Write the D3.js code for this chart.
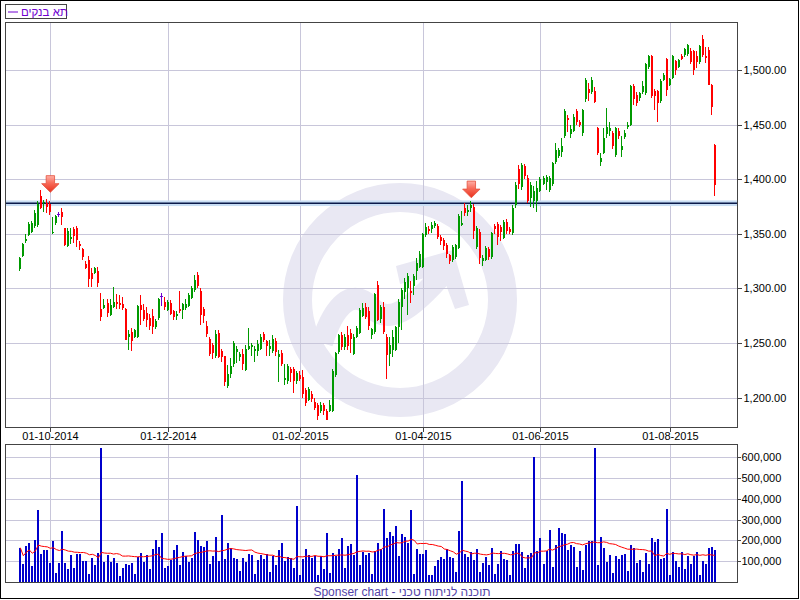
<!DOCTYPE html>
<html><head><meta charset="utf-8">
<script src="https://cdn.jsdelivr.net/npm/d3@7"></script>
<style>body{margin:0;background:#fff}svg{display:block}</style>
</head><body>
<svg id="c" width="800" height="600"></svg>
<script>
// ---------------- DATA ----------------
const seriesName = "תא בנקים";
const footerText = "Sponser chart - תוכנה לניתוח טכני";
const dateTickIndex = [10, 49, 93, 134, 173, 216];
const dateTickLabels = ["01-10-2014", "01-12-2014", "01-02-2015", "01-04-2015", "01-06-2015", "01-08-2015"];
const priceTicks = [1200, 1250, 1300, 1350, 1400, 1450, 1500];
const volumeTicksK = [100, 200, 300, 400, 500, 600];
const signalIndex = [10, 150];
const signalPrice = [1388, 1383];
const levelPrice = 1378;
const maPeriod = 20;

const openP = [1318,1330,1343,1349,1352,1357,1358,1385,1378,1378,1377,1351,1360,1368,1370,1355,1339,1345,1354,1355,
1341,1336,1322,1326,1314,1314,1316,1281,1282,1287,1276,1283,1288,1287,1286,1281,1256,1260,1256,1256,
1285,1280,1278,1273,1275,1265,1273,1293,1288,1280,1287,1279,1275,1281,1280,1282,1284,1291,1299,1312,
1298,1281,1266,1254,1248,1238,1259,1243,1238,1211,1222,1231,1242,1237,1240,1225,1245,1246,1243,1243,
1245,1258,1252,1245,1243,1252,1237,1241,1216,1215,1226,1226,1215,1221,1219,1207,1198,1203,1196,1193,
1188,1193,1188,1188,1188,1221,1242,1257,1246,1257,1259,1240,1256,1259,1275,1283,1279,1257,1260,1303,
1272,1283,1256,1240,1244,1244,1265,1283,1297,1300,1298,1302,1316,1320,1320,1349,1354,1354,1357,1357,
1347,1344,1340,1331,1326,1329,1337,1358,1374,1370,1374,1375,1338,1352,1325,1326,1336,1329,1357,1359,
1356,1346,1361,1354,1351,1376,1409,1393,1412,1401,1383,1380,1380,1389,1396,1397,1390,1396,1416,1421,
1425,1440,1456,1441,1444,1462,1452,1442,1473,1483,1480,1481,1447,1416,1424,1441,1444,1442,1422,1444,
1427,1439,1448,1450,1485,1477,1474,1480,1479,1503,1513,1481,1481,1472,1491,1510,1486,1493,1508,1503,
1513,1514,1515,1517,1517,1513,1507,1528,1513,1518,1486,1431];
const highP = [1329,1342,1350,1361,1362,1372,1380,1390,1381,1382,1380,1365,1367,1370,1374,1355,1355,1355,1356,1357,
1343,1337,1325,1330,1319,1320,1320,1296,1290,1290,1290,1301,1295,1294,1292,1282,1262,1264,1263,1285,
1294,1286,1283,1277,1281,1272,1291,1296,1292,1289,1289,1280,1279,1298,1287,1290,1296,1302,1312,1315,
1300,1283,1270,1256,1250,1262,1262,1245,1238,1230,1236,1252,1247,1242,1245,1248,1264,1250,1247,1253,
1258,1260,1253,1253,1257,1255,1244,1244,1231,1231,1228,1228,1224,1224,1225,1209,1210,1206,1200,1195,
1196,1195,1190,1198,1226,1242,1258,1260,1258,1266,1263,1258,1266,1282,1287,1287,1283,1264,1296,1307,
1285,1288,1258,1256,1262,1266,1290,1300,1310,1314,1307,1313,1328,1334,1351,1360,1357,1361,1362,1359,
1349,1346,1342,1332,1340,1341,1368,1371,1378,1376,1380,1377,1357,1354,1331,1339,1338,1352,1359,1361,
1358,1363,1364,1356,1376,1397,1413,1415,1414,1404,1397,1394,1398,1402,1403,1404,1403,1416,1433,1429,
1438,1464,1459,1450,1460,1464,1454,1464,1493,1488,1494,1484,1448,1424,1447,1465,1452,1444,1448,1447,
1440,1445,1452,1486,1487,1480,1480,1490,1506,1514,1514,1483,1482,1492,1497,1511,1493,1514,1509,1510,
1515,1520,1524,1520,1518,1517,1523,1532,1521,1521,1487,1432];
const lowP = [1316,1329,1342,1348,1351,1355,1356,1373,1370,1369,1367,1350,1358,1365,1358,1339,1338,1341,1342,1338,
1335,1326,1318,1301,1301,1313,1301,1270,1281,1274,1275,1282,1281,1281,1280,1253,1244,1243,1255,1255,
1267,1270,1265,1262,1258,1263,1271,1284,1280,1279,1276,1271,1271,1278,1272,1280,1283,1290,1297,1300,
1267,1268,1256,1238,1235,1236,1236,1233,1211,1209,1218,1228,1232,1234,1225,1224,1244,1238,1233,1238,
1244,1251,1238,1238,1241,1238,1214,1229,1212,1213,1214,1204,1213,1215,1200,1192,1197,1196,1189,1180,
1186,1184,1180,1187,1187,1219,1240,1244,1244,1244,1241,1239,1255,1258,1274,1272,1262,1254,1258,1270,
1268,1258,1217,1229,1237,1243,1250,1262,1290,1276,1287,1294,1308,1319,1319,1347,1350,1351,1355,1345,
1340,1335,1328,1322,1324,1327,1336,1357,1366,1366,1370,1345,1336,1322,1321,1325,1326,1327,1350,1340,
1343,1345,1350,1350,1349,1374,1391,1390,1400,1378,1375,1374,1370,1388,1395,1390,1388,1394,1414,1419,
1420,1438,1443,1438,1443,1450,1448,1440,1471,1472,1478,1470,1422,1412,1423,1438,1440,1428,1420,1437,
1420,1437,1446,1449,1468,1467,1472,1478,1477,1501,1474,1463,1452,1470,1490,1476,1485,1492,1495,1502,
1509,1512,1513,1505,1495,1502,1505,1512,1506,1486,1459,1385];
const closeP = [1328,1341,1345,1359,1360,1369,1377,1374,1379,1375,1370,1352,1366,1368,1365,1340,1353,1347,1348,1344,
1339,1329,1319,1309,1309,1319,1305,1274,1285,1278,1285,1288,1286,1285,1282,1253,1258,1252,1262,1284,
1280,1272,1271,1266,1265,1270,1290,1293,1283,1288,1277,1274,1277,1279,1286,1286,1294,1300,1308,1302,
1276,1275,1258,1240,1241,1258,1237,1237,1214,1222,1229,1250,1245,1240,1231,1245,1247,1248,1245,1249,
1256,1253,1247,1247,1254,1242,1240,1231,1218,1229,1223,1215,1223,1217,1203,1195,1208,1199,1191,1183,
1193,1188,1180,1193,1224,1241,1257,1246,1256,1247,1254,1256,1264,1280,1282,1274,1266,1263,1295,1271,
1283,1260,1239,1248,1256,1265,1288,1299,1306,1311,1296,1311,1323,1332,1350,1356,1353,1358,1360,1347,
1343,1339,1332,1325,1338,1340,1366,1360,1369,1372,1376,1353,1355,1328,1328,1337,1329,1351,1354,1347,
1352,1361,1353,1352,1374,1395,1396,1413,1403,1380,1395,1389,1392,1400,1401,1402,1401,1415,1427,1427,
1430,1462,1454,1446,1457,1452,1450,1463,1491,1479,1491,1471,1424,1419,1438,1448,1447,1430,1447,1440,
1430,1442,1450,1485,1473,1470,1479,1485,1505,1513,1476,1476,1470,1490,1495,1482,1492,1513,1500,1509,
1510,1519,1523,1507,1500,1507,1522,1514,1511,1486,1466,1395];
// volume, thousands of units
const volumeK = [165,88,175,189,75,204,348,136,155,155,93,199,45,93,247,93,64,131,69,136,
133,103,103,40,117,83,141,646,98,131,98,117,93,30,69,88,83,93,40,122,
141,98,131,64,160,204,167,237,69,79,107,155,180,83,146,127,98,117,242,204,
175,170,199,88,127,218,103,324,112,189,165,117,112,54,117,98,136,131,40,107,
131,112,136,50,127,83,155,189,103,122,117,69,367,35,112,160,131,117,127,35,
127,64,237,45,141,127,160,213,69,175,184,131,516,83,146,131,141,40,151,189,
160,353,213,242,223,271,127,232,218,189,348,40,160,136,136,152,35,35,79,107,
122,112,160,122,117,50,247,487,136,122,146,107,160,50,93,122,83,165,40,88,
151,112,107,35,151,184,184,146,69,131,141,603,151,213,88,151,252,74,179,261,
237,232,155,179,170,74,151,59,179,199,199,646,83,218,165,98,131,45,127,112,
131,136,54,179,165,93,107,50,141,88,213,194,208,112,117,353,35,146,103,74,
146,64,127,88,127,146,35,103,88,165,170,155];

// ---------------- LAYOUT ----------------
const N = closeP.length;
const mainBox = {l: 5, r: 737, t: 22, b: 427};
const volBox = {l: 5, r: 737, t: 444, b: 582};
const FONT = "'Liberation Sans', Arial, sans-serif";
const GRID = "#c8c6da";
const FRAME = "#444";
const UP = "#009900", DOWN = "#ff0000", DOJI = "#7000d0";

const svg = d3.select("#c");
svg.append("rect").attr("width", 800).attr("height", 600).attr("fill", "#fff");

const x = d3.scaleLinear().domain([0, N - 1]).range([20.3, 714.9]);
const y = d3.scaleLinear().domain([1173.2, 1543.9]).range([mainBox.b, mainBox.t]);
const yv = d3.scaleLinear().domain([0, 664]).range([volBox.b, volBox.t]);
const px = i => Math.round(x(i));

// watermark
const wm = svg.append("g").attr("fill", "none").attr("stroke", "#e9e8f3");
wm.append("circle").attr("cx", 400).attr("cy", 300).attr("r", 102.5).attr("stroke-width", 29);
wm.append("path").attr("d", "M322,343 C334,305 352,288 370,306 C388,326 410,312 446,270").attr("stroke-width", 22);
wm.append("path").attr("d", "M396,266 L453,250 L469,305 L455,309 L442,274 L400,284 Z").attr("fill", "#e9e8f3").attr("stroke", "none");

// grids (main)
const gm = svg.append("g").attr("shape-rendering", "crispEdges").attr("stroke", GRID);
gm.selectAll("line.h").data(priceTicks).join("line")
  .attr("x1", mainBox.l).attr("x2", mainBox.r)
  .attr("y1", d => Math.round(y(d)) + 0.5).attr("y2", d => Math.round(y(d)) + 0.5);
gm.selectAll("line.v").data(dateTickIndex).join("line")
  .attr("x1", d => px(d) + 0.5).attr("x2", d => px(d) + 0.5)
  .attr("y1", mainBox.t).attr("y2", mainBox.b);

// level line
const ly = y(levelPrice);
svg.append("rect").attr("x", mainBox.l).attr("width", mainBox.r - mainBox.l)
  .attr("y", ly - 2.8).attr("height", 5.6).attr("fill", "#c9def4");
svg.append("line").attr("x1", mainBox.l).attr("x2", mainBox.r).attr("y1", ly).attr("y2", ly)
  .attr("stroke", "#0b1a4a").attr("stroke-width", 1.4);

// candles
const idx = d3.range(N);
const colorOf = i => closeP[i] > openP[i] ? UP : (closeP[i] < openP[i] ? DOWN : DOJI);
const cg = svg.append("g").attr("shape-rendering", "crispEdges");
cg.selectAll("rect.w").data(idx).join("rect")
  .attr("x", i => px(i) - 1).attr("width", 1)
  .attr("y", i => y(highP[i])).attr("height", i => y(lowP[i]) - y(highP[i]))
  .attr("fill", colorOf);
cg.selectAll("rect.b").data(idx).join("rect")
  .attr("x", i => px(i) - (closeP[i] === openP[i] ? 2 : 1.5))
  .attr("width", i => closeP[i] === openP[i] ? 3 : 2.5)
  .attr("y", i => y(Math.max(openP[i], closeP[i])))
  .attr("height", i => Math.max(1, Math.abs(y(openP[i]) - y(closeP[i]))))
  .attr("fill", colorOf);

// signal arrows
const defs = svg.append("defs");
const grad = defs.append("linearGradient").attr("id", "ag").attr("x1", 0).attr("y1", 0).attr("x2", 0).attr("y2", 1);
grad.append("stop").attr("offset", "0").attr("stop-color", "#ffb0a8");
grad.append("stop").attr("offset", "0.45").attr("stop-color", "#f86a58");
grad.append("stop").attr("offset", "1").attr("stop-color", "#e8301c");
svg.selectAll("path.arrow").data(signalIndex).join("path")
  .attr("d", (d, k) => {
    const tx = x(d), ty = y(signalPrice[k]);
    return `M${tx - 4.2},${ty - 16.7} L${tx + 4.2},${ty - 16.7} L${tx + 4.2},${ty - 8.7} L${tx + 8.7},${ty - 8.7} L${tx},${ty} L${tx - 8.7},${ty - 8.7} L${tx - 4.2},${ty - 8.7} Z`;
  })
  .attr("fill", "url(#ag)").attr("stroke", "#e4503c").attr("stroke-width", 0.8);

// main frame
svg.append("rect").attr("x", mainBox.l + 0.5).attr("y", mainBox.t + 0.5)
  .attr("width", mainBox.r - mainBox.l).attr("height", mainBox.b - mainBox.t)
  .attr("fill", "none").attr("stroke", FRAME).attr("shape-rendering", "crispEdges");

// price axis
const ay = svg.append("g").attr("transform", `translate(${mainBox.r + 0.5},0)`)
  .call(d3.axisRight(y).tickValues(priceTicks).tickFormat(d3.format(",.2f")).tickSize(4).tickPadding(2));
// date axis
const ax = svg.append("g").attr("transform", `translate(0,${mainBox.b + 0.5})`)
  .call(d3.axisBottom(x).tickValues(dateTickIndex).tickFormat((d, k) => dateTickLabels[k]).tickSize(4).tickPadding(1));
ax.selectAll(".tick").attr("transform", d => `translate(${px(d) + 0.5},0)`);

// volume panel grid
const gv = svg.append("g").attr("shape-rendering", "crispEdges").attr("stroke", GRID);
gv.selectAll("line.h").data(volumeTicksK).join("line")
  .attr("x1", volBox.l).attr("x2", volBox.r)
  .attr("y1", d => Math.round(yv(d)) + 0.5).attr("y2", d => Math.round(yv(d)) + 0.5);
gv.selectAll("line.v").data(dateTickIndex).join("line")
  .attr("x1", d => px(d) + 0.5).attr("x2", d => px(d) + 0.5)
  .attr("y1", volBox.t).attr("y2", volBox.b);

// volume bars
svg.append("g").attr("shape-rendering", "crispEdges").selectAll("rect").data(idx).join("rect")
  .attr("x", i => px(i) - 1.5).attr("width", 2)
  .attr("y", i => yv(volumeK[i])).attr("height", i => yv(0) - yv(volumeK[i]))
  .attr("fill", "#0000cc");

// volume moving average (trailing mean of volumeK)
const ma = idx.map(i => d3.mean(volumeK.slice(Math.max(0, i - maPeriod + 1), i + 1)));
svg.append("path").datum(idx)
  .attr("d", d3.line().x(i => x(i)).y(i => yv(ma[i])))
  .attr("fill", "none").attr("stroke", "#ff0000").attr("stroke-width", 1);

// volume frame & axis
svg.append("rect").attr("x", volBox.l + 0.5).attr("y", volBox.t + 0.5)
  .attr("width", volBox.r - volBox.l).attr("height", volBox.b - volBox.t)
  .attr("fill", "none").attr("stroke", FRAME).attr("shape-rendering", "crispEdges");
const av = svg.append("g").attr("transform", `translate(${volBox.r + 0.5},0)`)
  .call(d3.axisRight(yv).tickValues(volumeTicksK).tickFormat(d => d3.format(",")(d * 1000)).tickSize(3).tickPadding(1));

[ay, ax, av].forEach(g => {
  g.select(".domain").remove();
  g.selectAll("line").attr("stroke", FRAME).attr("shape-rendering", "crispEdges");
  g.selectAll("text").attr("fill", "#000").style("font-family", FONT).style("font-size", "11px");
});

// legend
svg.append("rect").attr("x", 5.5).attr("y", 4.5).attr("width", 61).attr("height", 14)
  .attr("fill", "#fff").attr("stroke", FRAME).attr("shape-rendering", "crispEdges");
svg.append("line").attr("x1", 8).attr("x2", 18).attr("y1", 12).attr("y2", 12)
  .attr("stroke", "#7000d0").attr("stroke-width", 1);
svg.append("text").attr("x", 21).attr("y", 16).text(seriesName)
  .attr("fill", "#7000d0").style("font-family", FONT).style("font-size", "11.5px");

// footer
svg.append("text").attr("x", 402).attr("y", 595.5).attr("text-anchor", "middle").text(footerText)
  .attr("fill", "#5444a8").style("font-family", FONT).style("font-size", "12px");

// outer frame
svg.append("rect").attr("x", 0.5).attr("y", 0.5).attr("width", 798).attr("height", 598)
  .attr("fill", "none").attr("stroke", "#000").attr("shape-rendering", "crispEdges");
</script>
</body></html>
